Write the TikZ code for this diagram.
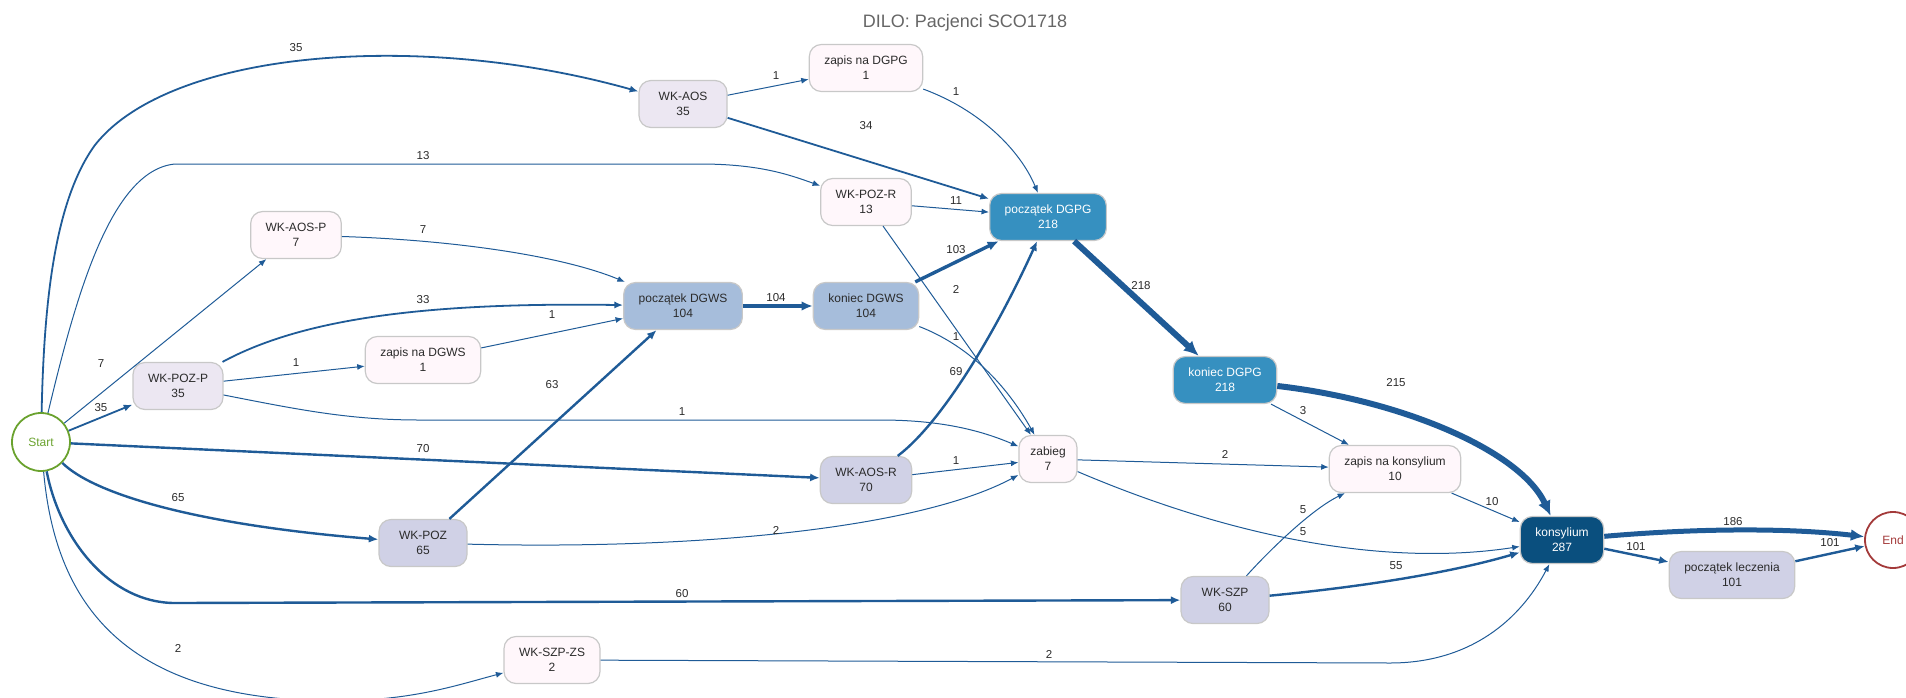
\documentclass[tikz,border=0pt]{standalone}
\usepackage{fontspec}
\setmainfont{Liberation Sans}
\usepackage{xcolor}
\usepackage{tikz}
\usetikzlibrary{arrows.meta,positioning}

\definecolor{edgeblue}{HTML}{1F5B97}
\definecolor{boxline}{HTML}{C8C8C8}
\definecolor{txt}{HTML}{2B2B2B}
\definecolor{pu1}{HTML}{FFF7FB}
\definecolor{pu2}{HTML}{ECE7F2}
\definecolor{pu3}{HTML}{D0D1E6}
\definecolor{pu4}{HTML}{A6BDDB}
\definecolor{pu6}{HTML}{3690C0}
\definecolor{pu9}{HTML}{0A4F7E}
\definecolor{startgreen}{HTML}{6AA22E}
\definecolor{endred}{HTML}{A33A3A}

\begin{document}
\begin{tikzpicture}[
    x=1pt, y=-1pt,
    box/.style={
        draw=boxline,
        line width=1.2pt,
        rounded corners=12pt,
        minimum width=88pt,
        minimum height=47pt,
        inner xsep=15pt,
        align=center,
        text=txt,
        font=\fontsize{12}{15}\selectfont
    },
    c1/.style={box, fill=pu1},
    c2/.style={box, fill=pu2},
    c3/.style={box, fill=pu3},
    c4/.style={box, fill=pu4},
    c6/.style={box, fill=pu6, text=white},
    c9/.style={box, fill=pu9, text=white},
    term/.style={
        circle,
        line width=1.8pt,
        inner sep=0pt,
        font=\fontsize{12}{15}\selectfont
    },
    flow/.style={draw=edgeblue, -{Latex[length=6pt 1.5, width=4.5pt 1.5]}},
    w1/.style={flow, line width=1pt},
    w2/.style={flow, line width=1.8pt},
    w3/.style={flow, line width=2.4pt},
    w4/.style={flow, line width=3.4pt},
    w5/.style={flow, line width=5pt},
    w6/.style={flow, line width=6pt},
    lbl/.style={font=\fontsize{11.5}{13}\selectfont, text=txt, inner sep=0pt}
]
\useasboundingbox (0,0) rectangle (1906,697);

\node[font=\fontsize{18}{22}\selectfont, text=black!60] (title) at (965,23) {DILO: Pacjenci SCO1718};

\node[term, draw=startgreen, text=startgreen, minimum size=58pt] (start) at (41,442) {Start};
\node[term, draw=endred, text=endred, minimum size=56pt] (finish) at (1893,540) {End};

\node[c2] (wkaos) at (683,104) {WK-AOS\\35};
\node[c1] (zapisdgpg) at (866,68) {zapis na DGPG\\1};
\node[c1] (wkpozr) at (866,202) {WK-POZ-R\\13};
\node[c6] (pdgpg) at (1048,217) {początek DGPG\\218};
\node[c1] (wkaosp) at (296,235) {WK-AOS-P\\7};
\node[c4] (pdgws) at (683,306) {początek DGWS\\104};
\node[c4] (kdgws) at (866,306) {koniec DGWS\\104};
\node[c2] (wkpozp) at (178,386) {WK-POZ-P\\35};
\node[c1] (zapisdgws) at (423,360) {zapis na DGWS\\1};
\node[c6] (kdgpg) at (1225,380) {koniec DGPG\\218};
\node[c1, minimum width=58pt, inner xsep=11pt] (zabieg) at (1048,459) {zabieg\\7};
\node[c1] (zapiskons) at (1395,469) {zapis na konsylium\\10};
\node[c3] (wkaosr) at (866,480) {WK-AOS-R\\70};
\node[c3] (wkpoz) at (423,543) {WK-POZ\\65};
\node[c9, minimum width=77pt] (kons) at (1562,540) {konsylium\\287};
\node[c3] (wkszp) at (1225,600) {WK-SZP\\60};
\node[c3] (pleczenia) at (1732,575) {początek leczenia\\101};
\node[c1] (wkszpzs) at (552,660) {WK-SZP-ZS\\2};

\draw[w2] (start) .. controls (44,300) and (55,200) .. (95,145) .. controls (170,50) and (420,30) .. (wkaos) node[lbl] at (296,48) {35};
\draw[w1] (start) .. controls (75,300) and (110,170) .. (175,164) -- (700,164) .. controls (760,164) and (790,175) .. (wkpozr) node[lbl] at (423,156) {13};
\draw[w1] (start) -- (wkaosp) node[lbl] at (101,364) {7};
\draw[w2] (start) -- (wkpozp) node[lbl] at (101,408) {35};
\draw[w3] (start) -- (wkaosr) node[lbl] at (423,449) {70};
\draw[w3] (start) .. controls (95,495) and (200,525) .. (wkpoz) node[lbl] at (178,498) {65};
\draw[w3] (start) .. controls (60,540) and (110,603) .. (175,603) -- (wkszp) node[lbl] at (682,594) {60};
\draw[w1] (start) .. controls (55,600) and (120,690) .. (300,700) .. controls (400,705) and (450,687) .. (wkszpzs) node[lbl] at (178,648) {2};

\draw[w1] (wkaos) -- (zapisdgpg) node[lbl] at (776,76) {1};
\draw[w2] (wkaos) -- (pdgpg) node[lbl] at (866,126) {34};
\draw[w1] (zapisdgpg) .. controls (980,110) and (1020,150) .. (pdgpg) node[lbl] at (956,92) {1};
\draw[w1] (wkpozr) -- (pdgpg) node[lbl] at (956,201) {11};
\draw[w1] (wkpozr) -- (zabieg) node[lbl] at (956,289) {2};
\draw[w1] (wkaosp) .. controls (450,240) and (560,255) .. (pdgws) node[lbl] at (423,230) {7};
\draw[w2] (wkpozp) .. controls (300,320) and (420,302) .. (pdgws) node[lbl] at (423,300) {33};
\draw[w1] (wkpozp) -- (zapisdgws) node[lbl] at (296,363) {1};
\draw[w1] (wkpozp) .. controls (300,410) and (350,420) .. (420,420) -- (880,420) .. controls (940,420) and (980,430) .. (zabieg) node[lbl] at (682,412) {1};
\draw[w1] (zapisdgws) -- (pdgws) node[lbl] at (552,315) {1};
\draw[w3] (wkpoz) -- (pdgws) node[lbl] at (552,385) {63};
\draw[w1] (wkpoz) .. controls (700,550) and (920,528) .. (zabieg) node[lbl] at (776,530) {2};
\draw[w4] (pdgws) -- (kdgws) node[lbl] at (776,298) {104};
\draw[w4] (kdgws) -- (pdgpg) node[lbl] at (956,250) {103};
\draw[w1] (kdgws) .. controls (980,350) and (1015,400) .. (zabieg) node[lbl] at (956,337) {1};
\draw[w3] (wkaosr) .. controls (945,420) and (1000,323) .. (pdgpg) node[lbl] at (956,372) {69};
\draw[w1] (wkaosr) -- (zabieg) node[lbl] at (956,461) {1};

\draw[w6] (pdgpg) -- (kdgpg) node[lbl] at (1141,286) {218};
\draw[w1] (zabieg) -- (zapiskons) node[lbl] at (1225,454) {2};
\draw[w1] (zabieg) .. controls (1250,545) and (1400,565) .. (kons) node[lbl] at (1303,532) {5};
\draw[w1] (kdgpg) -- (zapiskons) node[lbl] at (1303,411) {3};
\draw[w6] (kdgpg) .. controls (1400,400) and (1520,450) .. (kons) node[lbl] at (1396,383) {215};
\draw[w1] (zapiskons) -- (kons) node[lbl] at (1492,502) {10};
\draw[w1] (wkszp) .. controls (1265,555) and (1310,510) .. (zapiskons) node[lbl] at (1303,510) {5};
\draw[w3] (wkszp) .. controls (1380,585) and (1460,570) .. (kons) node[lbl] at (1396,566) {55};
\draw[w1] (wkszpzs) -- (1390,663) .. controls (1470,663) and (1520,620) .. (kons) node[lbl] at (1049,654) {2};

\draw[w5] (kons) .. controls (1700,528) and (1790,528) .. (finish) node[lbl] at (1733,522) {186};
\draw[w3] (kons) -- (pleczenia) node[lbl] at (1636,547) {101};
\draw[w3] (pleczenia) -- (finish) node[lbl] at (1830,543) {101};
\end{tikzpicture}
\end{document}
